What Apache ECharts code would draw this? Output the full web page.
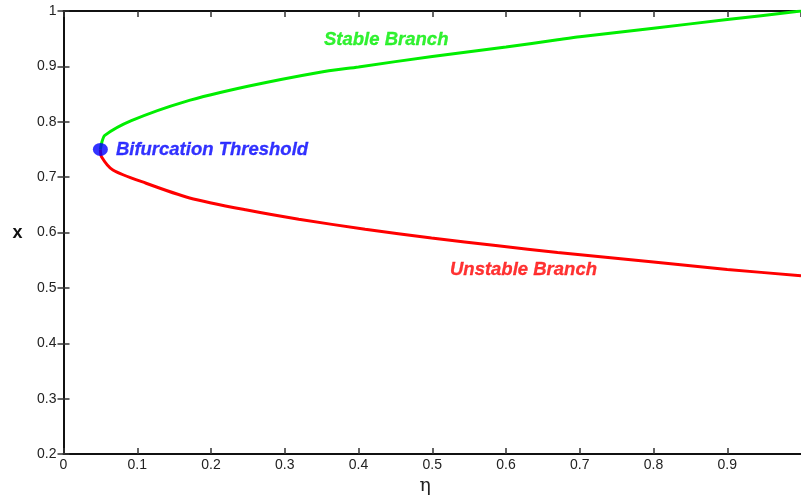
<!DOCTYPE html>
<html>
<head>
<meta charset="utf-8">
<script src="https://cdn.jsdelivr.net/npm/echarts@6/dist/echarts.min.js"></script>
<style>
html,body{margin:0;padding:0;background:#fff;overflow:hidden;}
#chart{width:801px;height:501px;}
</style>
</head>
<body>
<div id="chart"></div>
<script>
// eta values and x values for stable (green) branch
const stableEta = [0.05, 0.052, 0.056, 0.092, 0.164, 0.25, 0.346, 0.4, 0.5, 0.6, 0.67, 0.7, 0.8, 0.9, 1.0];
const stableX   = [0.75, 0.763, 0.7755, 0.802, 0.836, 0.864, 0.889, 0.899, 0.918, 0.935, 0.948, 0.9535, 0.969, 0.9845, 1.0];
// unstable (red) branch
const unstableEta = [0.05, 0.0515, 0.067, 0.112, 0.171, 0.247, 0.319, 0.409, 0.499, 0.589, 0.670, 0.8, 0.9, 1.0];
const unstableX   = [0.75, 0.737, 0.713, 0.689, 0.6625, 0.641, 0.624, 0.606, 0.590, 0.576, 0.564, 0.547, 0.5335, 0.522];
// bifurcation threshold point
const bifEta = [0.05];
const bifX = [0.75];
// annotation anchors (data coordinates)
const annoText = ['Stable Branch', 'Unstable Branch'];
const annoEta = [0.4376, 0.6237];
const annoX = [0.948, 0.5327];
const annoColor = ['#00ee00', '#ff0000'];

const zip = (a, b) => a.map((v, i) => [v, b[i]]);

const axisLineStyle = {color: '#111', width: 2};
const tickStyle = {show: true, inside: true, length: 6, lineStyle: {color: '#333', width: 1.5}};
const labelFont = {color: '#222', fontSize: 14, fontFamily: 'Liberation Sans, Arial, sans-serif'};
const annoFont = {fontSize: 18.5, fontWeight: 'bold', fontStyle: 'italic', fontFamily: 'Liberation Sans, Arial, sans-serif', textBorderWidth: 0.3};

const chart = echarts.init(document.getElementById('chart'), null, {renderer: 'canvas', width: 801, height: 501});
chart.setOption({
  animation: false,
  backgroundColor: '#fff',
  grid: {left: 63.5, top: 11, width: 741.5, height: 448, containLabel: false},
  xAxis: [{
    type: 'value', min: 0, max: 1, interval: 0.1,
    name: 'η', nameLocation: 'middle', nameGap: 21,
    nameTextStyle: {fontSize: 19, color: '#222', fontFamily: 'DejaVu Serif, serif', padding: [0, 14, 0, 0]},
    axisLine: {show: true, lineStyle: axisLineStyle},
    axisTick: tickStyle,
    axisLabel: Object.assign({margin: 4, showMaxLabel: false,
      formatter: v => (Math.round(v * 10) / 10).toString()}, labelFont),
    splitLine: {show: false}
  }, {
    type: 'value', min: 0, max: 1, interval: 0.1, position: 'top',
    axisLine: {show: true, lineStyle: axisLineStyle},
    axisTick: tickStyle,
    axisLabel: {show: false}, splitLine: {show: false}
  }],
  yAxis: [{
    type: 'value', min: 0.2, max: 1, interval: 0.1,
    name: 'x', nameLocation: 'middle', nameGap: 41, nameRotate: 0,
    nameTextStyle: {fontSize: 18, fontWeight: 'bold', color: '#111', fontFamily: 'Liberation Sans, Arial, sans-serif'},
    axisLine: {show: true, lineStyle: axisLineStyle},
    axisTick: tickStyle,
    axisLabel: Object.assign({margin: 7, formatter: v => (Math.round(v * 10) / 10).toString()}, labelFont),
    splitLine: {show: false}
  }, {
    type: 'value', min: 0.2, max: 1, interval: 0.1, position: 'right',
    axisLine: {show: true, lineStyle: axisLineStyle},
    axisTick: tickStyle,
    axisLabel: {show: false}, splitLine: {show: false}
  }],
  series: [{
    name: 'Unstable', type: 'line', data: zip(unstableEta, unstableX),
    showSymbol: false, smooth: 0.25, z: 2,
    lineStyle: {color: '#ff0000', width: 3}
  }, {
    name: 'Stable', type: 'line', data: zip(stableEta, stableX),
    showSymbol: false, smooth: 0.25, z: 3,
    lineStyle: {color: '#00ee00', width: 3}
  }, {
    name: 'Bifurcation', type: 'scatter', data: zip(bifEta, bifX), z: 5,
    symbol: 'circle', symbolSize: [15, 13],
    itemStyle: {color: '#0000ff'},
    label: Object.assign({show: true, position: 'right', distance: 8, formatter: 'Bifurcation Threshold',
      color: '#0000ff', textBorderColor: '#0000ff'}, annoFont)
  }, {
    name: 'Annotations', type: 'scatter', z: 4, symbolSize: 1,
    data: annoText.map((t, i) => ({
      value: [annoEta[i], annoX[i]],
      label: Object.assign({show: true, position: 'inside', formatter: t, color: annoColor[i],
        textBorderColor: annoColor[i]}, annoFont)
    })),
    itemStyle: {color: 'rgba(0,0,0,0)'}
  }]
});
</script>
</body>
</html>
